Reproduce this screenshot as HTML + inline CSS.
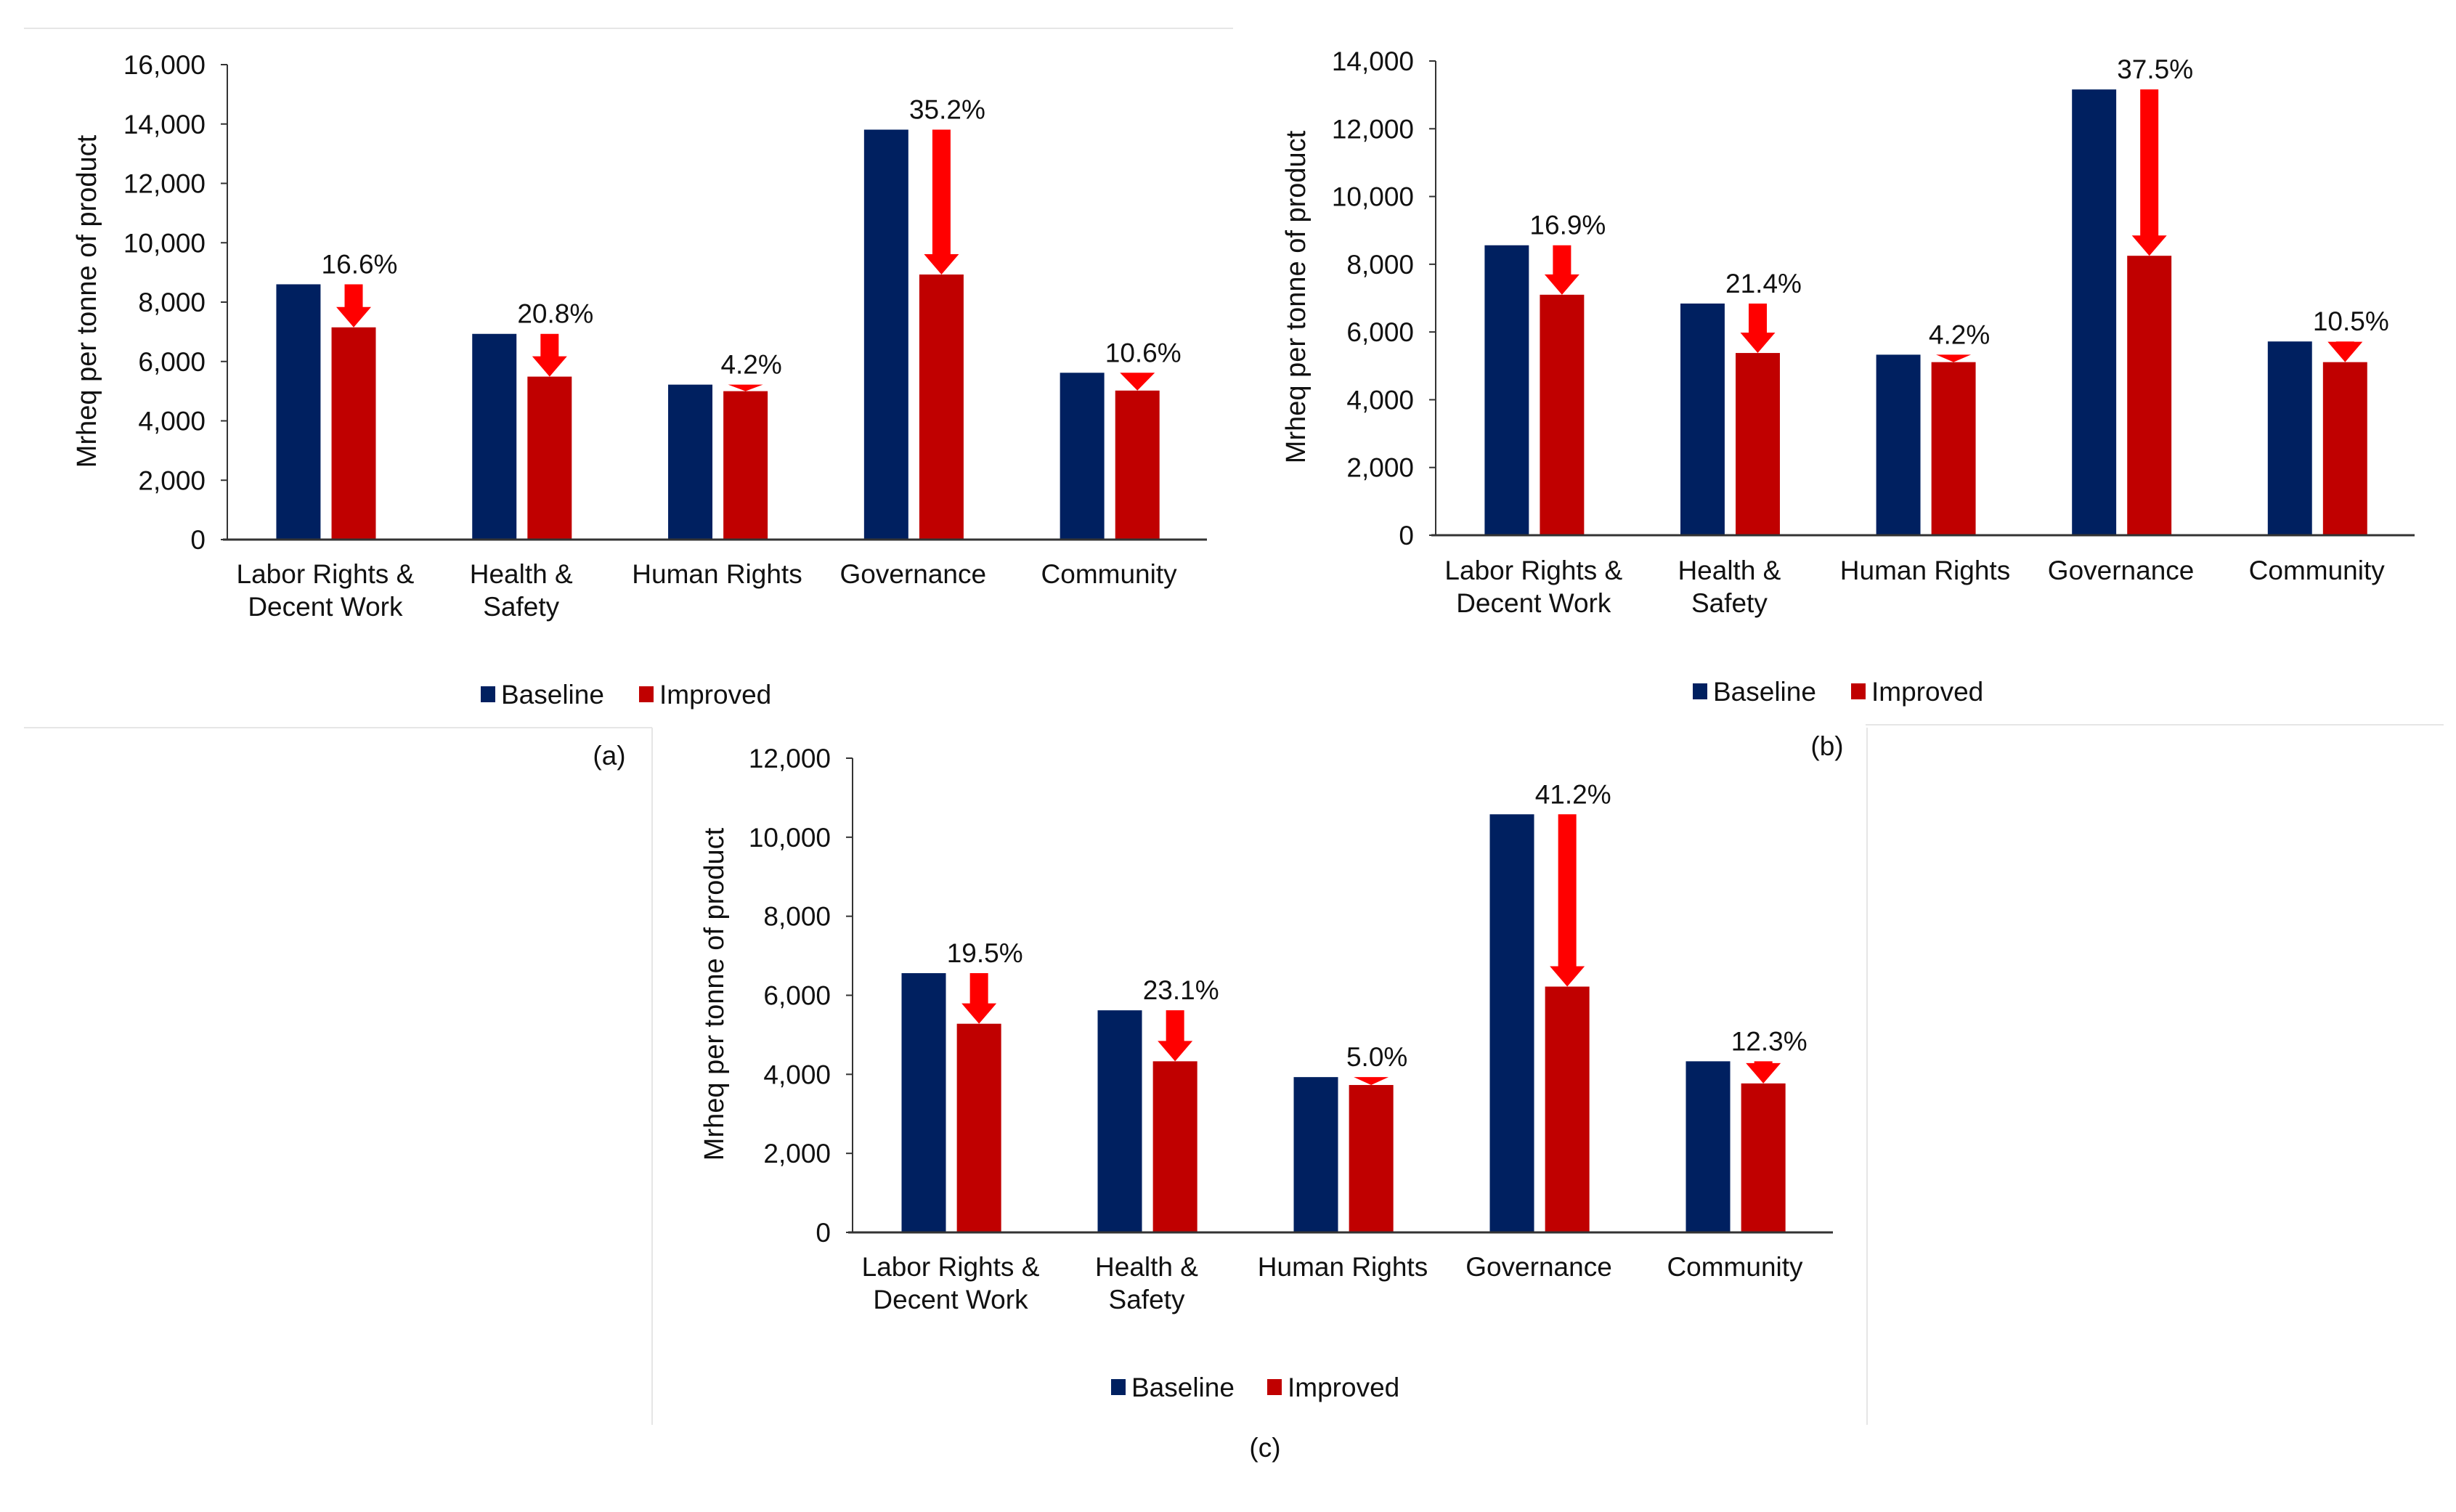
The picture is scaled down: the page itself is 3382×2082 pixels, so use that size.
<!DOCTYPE html>
<html><head><meta charset="utf-8"><style>
html,body{margin:0;padding:0;background:#fff}
svg{display:block}
text{font-family:"Liberation Sans",Arial,sans-serif;fill:#111}
</style></head><body>
<svg id="fig" width="3382" height="2082" viewBox="0 0 3382 2082" xmlns="http://www.w3.org/2000/svg">
<g stroke="#e6e6e6" stroke-width="2" fill="none">
<line x1="33" y1="39" x2="1698" y2="39"/>
<line x1="33" y1="1002" x2="898" y2="1002"/>
<line x1="898" y1="1002" x2="898" y2="1962"/>
<line x1="2571" y1="1002" x2="2571" y2="1962"/>
<line x1="2569" y1="998" x2="3365" y2="998"/>
</g>
<text x="839" y="1053" font-size="37" text-anchor="middle">(a)</text>
<text x="2516" y="1040" font-size="37" text-anchor="middle">(b)</text>
<text x="1742" y="2006" font-size="37" text-anchor="middle">(c)</text>
</svg>
<script>
const categories = [["Labor Rights &","Decent Work"],["Health &","Safety"],["Human Rights"],["Governance"],["Community"]];
const baselineA = [8600, 6930, 5220, 13810, 5620];
const improvedA = [7150, 5490, 5000, 8930, 5020];
const pctA = ["16.6%","20.8%","4.2%","35.2%","10.6%"];
const baselineB = [8560, 6840, 5330, 13160, 5720];
const improvedB = [7100, 5380, 5110, 8250, 5110];
const pctB = ["16.9%","21.4%","4.2%","37.5%","10.5%"];
const baselineC = [6560, 5620, 3930, 10580, 4330];
const improvedC = [5280, 4330, 3730, 6220, 3770];
const pctC = ["19.5%","23.1%","5.0%","41.2%","12.3%"];
const ticksA = [0,2000,4000,6000,8000,10000,12000,14000,16000];
const ticksB = [0,2000,4000,6000,8000,10000,12000,14000];
const ticksC = [0,2000,4000,6000,8000,10000,12000];

const NS = "http://www.w3.org/2000/svg";
const svg = document.getElementById("fig");
function mk(tag, attrs, parent){
  const e = document.createElementNS(NS, tag);
  for (const k in attrs) e.setAttribute(k, attrs[k]);
  parent.appendChild(e);
  return e;
}
function fmt(v){ return v.toLocaleString("en-US"); }

function drawChart(id, cfg, base, imp, pct, ticks){
  const g = mk("g", {}, svg);
  
  
  const yMax = ticks[ticks.length-1];
  const y = v => cfg.y0 - (v / yMax) * (cfg.y0 - cfg.yTop);
  const cw = (cfg.x1 - cfg.x0) / categories.length;
  const bw = cw * 0.226, gap = cw * 0.056, off = cw * 0.25;
  const ya = mk("line", {x1:cfg.x0, y1:cfg.yTop, x2:cfg.x0, y2:cfg.y0, stroke:"#333", "stroke-width":2}, g);
  
  
  ticks.forEach(t => {
    const tk = mk("line", {x1:cfg.x0-9, y1:y(t), x2:cfg.x0, y2:y(t), stroke:"#333", "stroke-width":2}, g);
    
    
    const tl = mk("text", {x:cfg.x0-30, y:y(t)+13, "font-size":37, "text-anchor":"end"}, g);
    tl.textContent = fmt(t);
    
    
  });
  const yt = mk("text", {x:0, y:0, "font-size":38, "text-anchor":"middle", transform:`translate(${cfg.titleX},${cfg.titleY}) rotate(-90)`}, g);
  yt.textContent = "Mrheq per tonne of product";
  
  
  categories.forEach((c, i) => {
    const bx = cfg.x0 + i*cw + off;
    const ix = bx + bw + gap;
    const rb = mk("rect", {x:bx, y:y(base[i]), width:bw, height:cfg.y0 - y(base[i]), fill:"#002060"}, g);
    
    
    const ri = mk("rect", {x:ix, y:y(imp[i]), width:bw, height:cfg.y0 - y(imp[i]), fill:"#c00000"}, g);
    
    
    const cx = ix + bw/2, top = y(base[i]), tip = y(imp[i]);
    const headH = Math.min(28, tip - top);
    const hy = tip - headH;
    const d = `M${cx-12.5},${top} L${cx+12.5},${top} L${cx+12.5},${hy} L${cx+24},${hy} L${cx},${tip} L${cx-24},${hy} L${cx-12.5},${hy} Z`;
    const ar = mk("path", {d:d, fill:"#ff0000"}, g);
    
    
    const pl = mk("text", {x:cx+8, y:top-15, "font-size":37, "text-anchor":"middle"}, g);
    pl.textContent = pct[i];
    
    
    const gx = cfg.x0 + (i+0.5)*cw;
    c.forEach((line, li) => {
      const cl = mk("text", {x:gx, y:cfg.catY + li*45, "font-size":37, "text-anchor":"middle"}, g);
      cl.textContent = line;
      
      
    });
  });
  const xa = mk("line", {x1:cfg.x0-6, y1:cfg.y0, x2:cfg.x1, y2:cfg.y0, stroke:"#333", "stroke-width":3}, g);
  
  
  const ls1 = mk("rect", {x:cfg.legX, y:cfg.legY-24, width:20, height:22, fill:"#002060"}, g);
  
  
  const lt1 = mk("text", {x:cfg.legX+28, y:cfg.legY, "font-size":37}, g);
  lt1.textContent = "Baseline";
  
  
  const ls2 = mk("rect", {x:cfg.legX2, y:cfg.legY-24, width:20, height:22, fill:"#c00000"}, g);
  
  
  const lt2 = mk("text", {x:cfg.legX2+28, y:cfg.legY, "font-size":37}, g);
  lt2.textContent = "Improved";
  
  
}

drawChart("a", {x0:313, x1:1662, yTop:89, y0:743, catY:803, titleX:132, titleY:415, legX:662, legX2:880, legY:969}, baselineA, improvedA, pctA, ticksA);
drawChart("b", {x0:1977, x1:3325, yTop:84, y0:737, catY:798, titleX:1797, titleY:409, legX:2331, legX2:2549, legY:965}, baselineB, improvedB, pctB, ticksB);
drawChart("c", {x0:1174, x1:2524, yTop:1044, y0:1697, catY:1757, titleX:996, titleY:1369, legX:1530, legX2:1745, legY:1923}, baselineC, improvedC, pctC, ticksC);
</script>
</body></html>
